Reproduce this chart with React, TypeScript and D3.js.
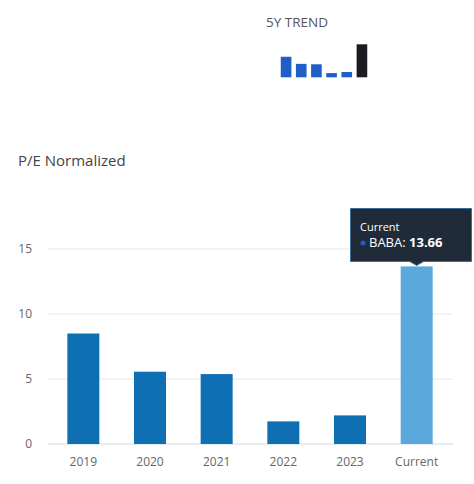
import React from "react";
import * as d3 from "d3";

const categories = ["2019", "2020", "2021", "2022", "2023", "Current"];
const peValues = [8.5, 5.56, 5.38, 1.74, 2.2, 13.66];
const yTicks = [0, 5, 10, 15];
const ticker = "BABA";

const W = 474;
const H = 484;
const FONT = "'Open Sans', Lato, sans-serif";

export default function App() {
  const x = d3.scaleBand<string>().domain(categories).range([50, 450]).paddingInner(0.52).paddingOuter(0.26);
  const y = d3.scaleLinear().domain([0, 15]).range([444, 249]);

  const mx = d3.scaleBand<string>().domain(categories).range([280, 368]).paddingInner(0.3).paddingOuter(0.05);
  const my = d3.scaleLinear().domain([0, 13.66]).range([77.3, 44.3]);

  const last = categories[categories.length - 1];
  const lastVal = peValues[peValues.length - 1];
  const tipX = (x(last) ?? 0) + x.bandwidth() / 2;
  const tipY = y(lastVal);

  return (
    <svg width={W} height={H} style={{ position: "absolute", left: 0, top: 0, fontFamily: FONT }}>
      <rect width={W} height={H} fill="#fff" />
      <text x={297} y={27} fontSize={13.5} fill="#555" textAnchor="middle">5Y TREND</text>
      {categories.map((c, i) => (
        <rect
          key={"m" + c}
          x={mx(c)}
          y={my(peValues[i])}
          width={mx.bandwidth()}
          height={my(0) - my(peValues[i])}
          fill={i === categories.length - 1 ? "#1b1b22" : "#1f5ec9"}
        />
      ))}

      <text x={18} y={166} fontSize={15} fill="#444">P/E Normalized</text>

      {yTicks.map((t) => (
        <g key={"g" + t}>
          <line x1={48} x2={453} y1={y(t)} y2={y(t)} stroke={t === 0 ? "#ccd6eb" : "#e8e8e8"} strokeWidth={1} />
          <text x={32} y={y(t) + 4} fontSize={12} fill="#666" textAnchor="end">{t}</text>
        </g>
      ))}

      {categories.map((c, i) => (
        <g key={"b" + c}>
          <rect
            x={x(c)}
            y={y(peValues[i])}
            width={x.bandwidth()}
            height={y(0) - y(peValues[i])}
            fill={i === categories.length - 1 ? "#5aa8dc" : "#0f6fb3"}
          />
          <text x={(x(c) ?? 0) + x.bandwidth() / 2} y={466} fontSize={12} fill="#666" textAnchor="middle">{c}</text>
        </g>
      ))}

      <g>
        <path
          d={`M350.5,208.5 H471.5 V261.5 H${tipX + 7} L${tipX},${tipY - 1} L${tipX - 7},261.5 H350.5 Z`}
          fill="#1f2b38"
          stroke="#3d6f95"
          strokeWidth={1}
        />
        <text x={360} y={231} fontSize={11} fill="#fff">{last}</text>
        <circle cx={363} cy={243} r={2.5} fill="#1f5ec9" />
        <text x={369} y={247} fontSize={13} fill="#fff">
          {ticker}: <tspan fontWeight="bold">{lastVal.toFixed(2)}</tspan>
        </text>
      </g>
    </svg>
  );
}
